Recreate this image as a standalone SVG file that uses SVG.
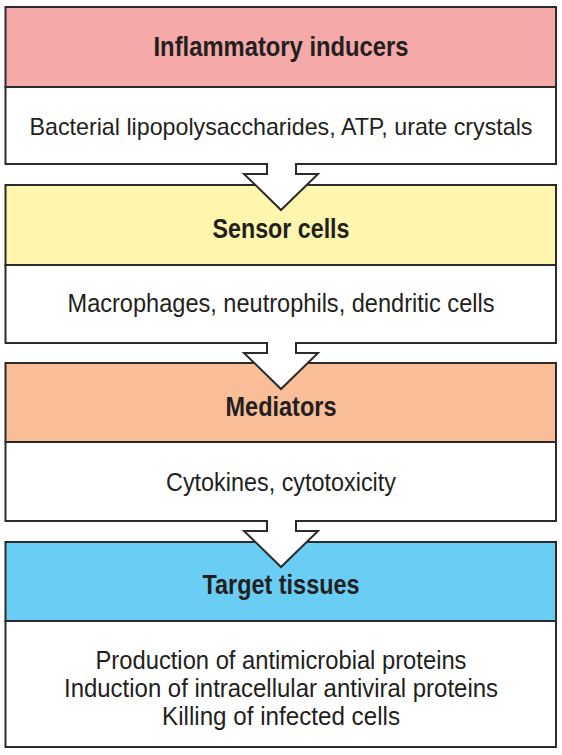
<svg xmlns="http://www.w3.org/2000/svg" width="562" height="755" viewBox="0 0 562 755">
<style>
.box{stroke:#2b2b2b;stroke-width:2}
.body{fill:#fff}
.arrow{fill:#fff;stroke:#2b2b2b;stroke-width:2;stroke-linejoin:miter}
.h{font-family:"Liberation Sans",Arial,sans-serif;font-weight:bold;font-size:27px;fill:#231f20;text-anchor:middle}
.t{font-family:"Liberation Sans",Arial,sans-serif;font-size:25.5px;fill:#231f20;text-anchor:middle}
</style>
<rect width="562" height="755" fill="#fff"/>
<g id="inducers">
<rect class="box" x="5.5" y="7" width="550.5" height="80" fill="#F5A9A8"/>
<rect class="box body" x="5.5" y="87" width="550.5" height="77"/>
<text class="h" x="281" y="56" textLength="255" lengthAdjust="spacingAndGlyphs">Inflammatory inducers</text>
<text class="t" x="281" y="135" style="font-size:24px" textLength="503" lengthAdjust="spacingAndGlyphs">Bacterial lipopolysaccharides, ATP, urate crystals</text>
</g>
<g id="sensors">
<rect class="box" x="5.5" y="185" width="550.5" height="80" fill="#FFF6AE"/>
<rect class="box body" x="5.5" y="265" width="550.5" height="78"/>
<text class="h" x="281" y="238" textLength="137" lengthAdjust="spacingAndGlyphs">Sensor cells</text>
<text class="t" x="281" y="312" textLength="427" lengthAdjust="spacingAndGlyphs">Macrophages, neutrophils, dendritic cells</text>
</g>
<g id="mediators">
<rect class="box" x="5.5" y="363" width="550.5" height="79" fill="#F9BE98"/>
<rect class="box body" x="5.5" y="442" width="550.5" height="79"/>
<text class="h" x="281" y="416" textLength="111" lengthAdjust="spacingAndGlyphs">Mediators</text>
<text class="t" x="281" y="491" textLength="230" lengthAdjust="spacingAndGlyphs">Cytokines, cytotoxicity</text>
</g>
<g id="targets">
<rect class="box" x="5.5" y="542" width="550.5" height="79" fill="#6ACDF3"/>
<rect class="box body" x="5.5" y="621" width="550.5" height="126"/>
<text class="h" x="281" y="594" textLength="157" lengthAdjust="spacingAndGlyphs">Target tissues</text>
<text class="t" x="281" y="669" textLength="371" lengthAdjust="spacingAndGlyphs">Production of antimicrobial proteins</text>
<text class="t" x="281" y="697" textLength="434" lengthAdjust="spacingAndGlyphs">Induction of intracellular antiviral proteins</text>
<text class="t" x="281" y="725" textLength="238" lengthAdjust="spacingAndGlyphs">Killing of infected cells</text>
</g>
<g id="connectors">
<path class="arrow" d="M267,163 V174 H244 L281,210 L318,174 H296 V163"/>
<path class="arrow" d="M267,342 V353 H244 L281,389 L318,353 H296 V342"/>
<path class="arrow" d="M267,520 V531 H244 L281,567 L318,531 H296 V520"/>
</g>
</svg>
